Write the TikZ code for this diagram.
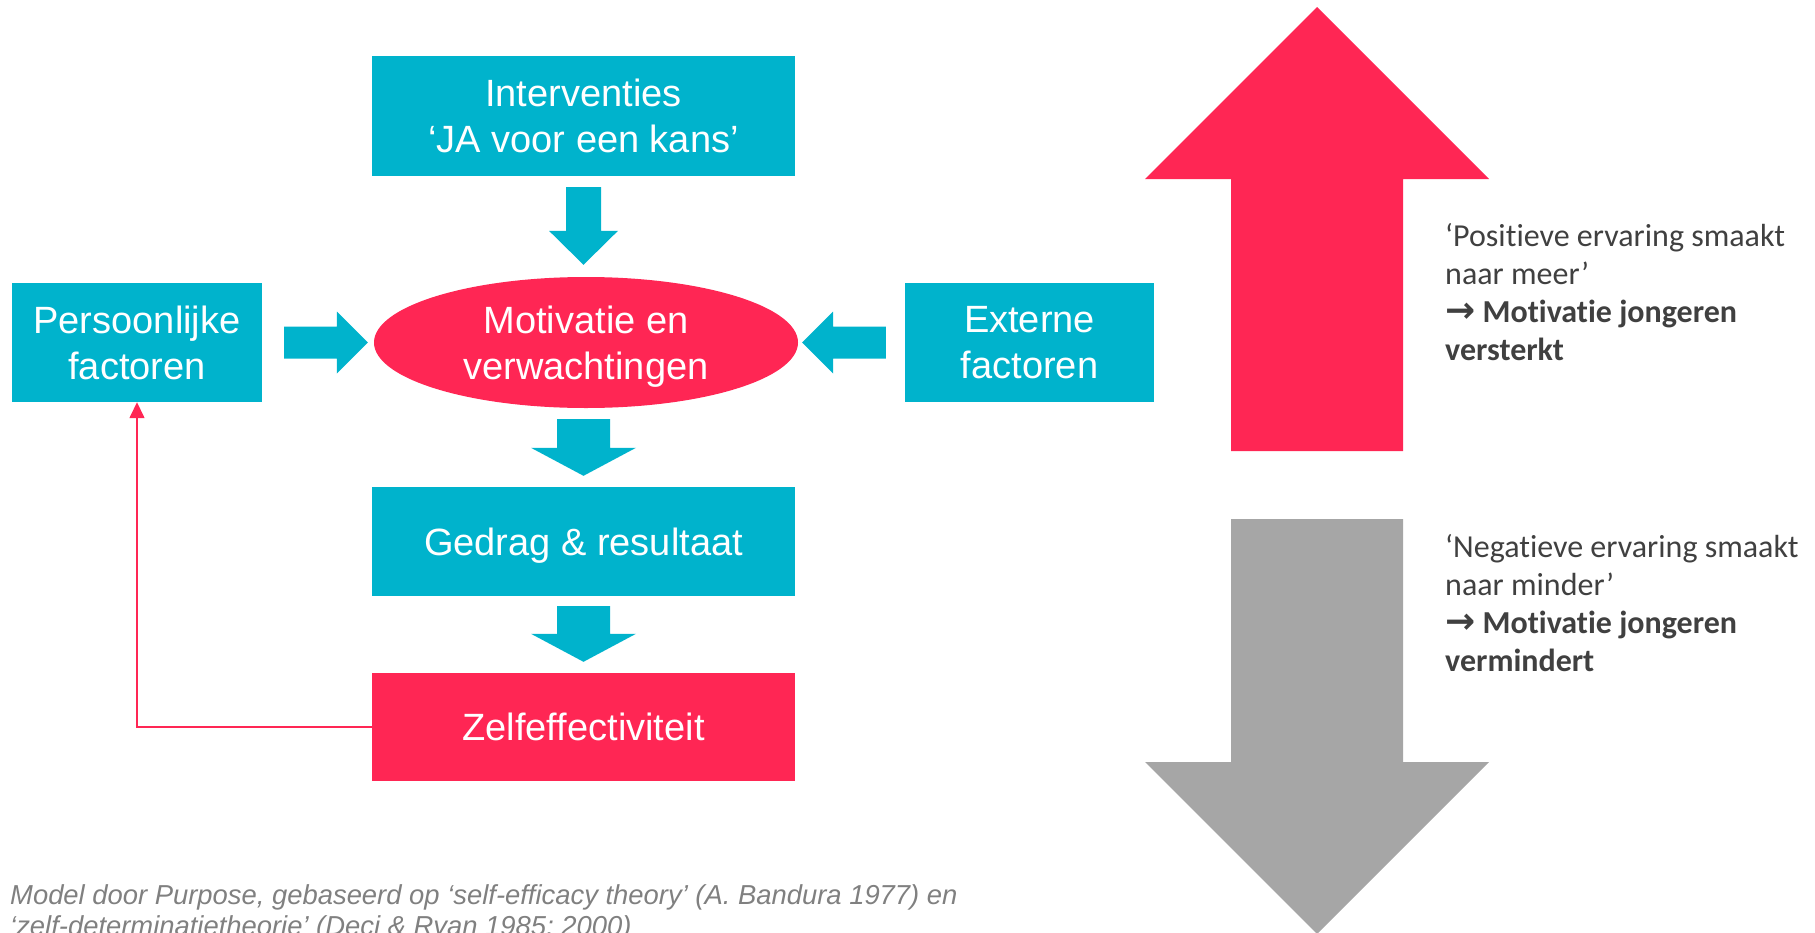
\documentclass[tikz,border=0pt]{standalone}
\usepackage{fontspec}
\setmainfont{Liberation Sans}
\newfontfamily\calibri[Ligatures=NoCommon]{Carlito}
\newfontfamily\dejavu{DejaVu Sans}
\usetikzlibrary{shapes.geometric,arrows.meta,calc}
\definecolor{tealc}{RGB}{0,179,204}
\definecolor{redc}{RGB}{255,38,84}
\definecolor{grayarrow}{RGB}{166,166,166}
\definecolor{txtgray}{RGB}{64,64,64}
\definecolor{capgray}{RGB}{128,128,128}
% vertical block arrow pointing down: #1 top coord, #2 tip coord, #3 shaft half, #4 head half, #5 head base offset from tip (signed), #6 colour
\newcommand\vblockarrow[6]{%
  \coordinate (vtip) at (#1|-#2);
  \fill[#6] ($(#1)+(-#3,0)$) -- ($(#1)+(#3,0)$) -- ($(vtip)+(#3,#5)$) -- ($(vtip)+(#4,#5)$) -- (vtip)
    -- ($(vtip)+(-#4,#5)$) -- ($(vtip)+(-#3,#5)$) -- cycle;}
% horizontal block arrow: #1 tail coord, #2 tip coord, #3 shaft half, #4 head half, #5 head base offset from tip (signed), #6 colour
\newcommand\hblockarrow[6]{%
  \coordinate (htip) at (#2|-#1);
  \fill[#6] ($(#1)+(0,-#3)$) -- ($(htip)+(#5,-#3)$) -- ($(htip)+(#5,-#4)$) -- (htip)
    -- ($(htip)+(#5,#4)$) -- ($(htip)+(#5,#3)$) -- ($(#1)+(0,#3)$) -- cycle;}
\newcommand\txtarrow{{\dejavu\bfseries\fontsize{36}{38}\selectfont →}}
\begin{document}
\begin{tikzpicture}[x=1pt,y=-1pt,
  boxtxt/.style={inner sep=0pt,align=center,text=white,font=\fontsize{38}{46}\selectfont},
  tealbox/.style={boxtxt,rectangle,fill=tealc},
  redbox/.style={boxtxt,rectangle,fill=redc},
  sidetxt/.style={anchor=base west,inner sep=0pt,text=txtgray,font=\calibri\fontsize{32}{38}\selectfont},
  feedback/.style={draw=redc,line width=1.5pt,-{Triangle[length=16pt,width=15pt]}}
]
\useasboundingbox (0,0) rectangle (1815,932);
\clip (0,0) rectangle (1815,932);

% nodes
\node[tealbox,minimum width=423pt,minimum height=120pt] (int) at (583.5,116) {Interventies\\‘JA voor een kans’};
\node[tealbox,minimum width=250pt,minimum height=119pt] (per) at (137,342.5) {Persoonlijke\\factoren};
\node[tealbox,minimum width=249pt,minimum height=119pt] (ext) at (1029.5,342.5) {Externe\\factoren};
\node[boxtxt,ellipse,fill=redc,minimum width=424pt,minimum height=131pt] (mot) at (586,342.5) {Motivatie en\\\smash{verwachtingen}};
\node[tealbox,text depth=0pt,minimum width=423pt,minimum height=109pt] (ged) at (583.5,541.5) {Gedrag \& resultaat};
\node[redbox,text depth=0pt,minimum width=423pt,minimum height=108pt] (zel) at (583.5,727) {Zelfeffectiviteit};

% block arrows between nodes
\coordinate (a1s) at ($(int.south)+(0,11)$);
\coordinate (a1e) at ($(mot.north)+(0,-12)$);
\vblockarrow{a1s}{a1e}{17.5}{34.5}{-34}{tealc}
\coordinate (a2s) at ($(mot.south)+(-2.5,11)$);
\coordinate (a2e) at ($(ged.north)+(0,-11)$);
\vblockarrow{a2s}{a2e}{26.5}{52.5}{-28}{tealc}
\coordinate (a3s) at ($(ged.south)+(0,10)$);
\coordinate (a3e) at ($(zel.north)+(0,-11)$);
\vblockarrow{a3s}{a3e}{26.5}{52.5}{-28}{tealc}
\coordinate (a4s) at ($(per.east)+(22,0)$);
\coordinate (a4e) at ($(mot.west)+(-6,0)$);
\hblockarrow{a4s}{a4e}{16}{31}{-31}{tealc}
\coordinate (a5s) at ($(ext.west)+(-19,0)$);
\coordinate (a5e) at ($(mot.east)+(4,0)$);
\hblockarrow{a5s}{a5e}{16}{31}{31}{tealc}

% feedback connector
\draw[feedback] (zel.west) -| (per.south);

% big arrows
\fill[redc] (1317,7) -- (1489,179) -- (1403,179) -- (1403,451) -- (1231,451) -- (1231,179) -- (1145,179) -- cycle;
\fill[grayarrow] (1231,519) -- (1403,519) -- (1403,762) -- (1489,762) -- (1317,934) -- (1145,762) -- (1231,762) -- cycle;

% side texts
\node[sidetxt] (pos) at (1445,246) {\begin{tabular}[t]{@{}l@{}}‘Positieve ervaring smaakt\\naar meer’\\\textbf{\txtarrow{} Motivatie jongeren}\\\textbf{versterkt}\end{tabular}};
\node[sidetxt] (neg) at (1445,557) {\begin{tabular}[t]{@{}l@{}}‘Negatieve ervaring smaakt\\naar minder’\\\textbf{\txtarrow{} Motivatie jongeren}\\\textbf{vermindert}\end{tabular}};

% caption
\node[anchor=base west,inner sep=0pt,text=capgray,font=\itshape\fontsize{27.4}{31}\selectfont] (cap) at (10,904) {\begin{tabular}[t]{@{}l@{}}Model door Purpose, gebaseerd op ‘self-efficacy theory’ (A. Bandura 1977) en\\‘zelf-determinatietheorie’ (Deci \& Ryan 1985; 2000)\end{tabular}};
\end{tikzpicture}
\end{document}
